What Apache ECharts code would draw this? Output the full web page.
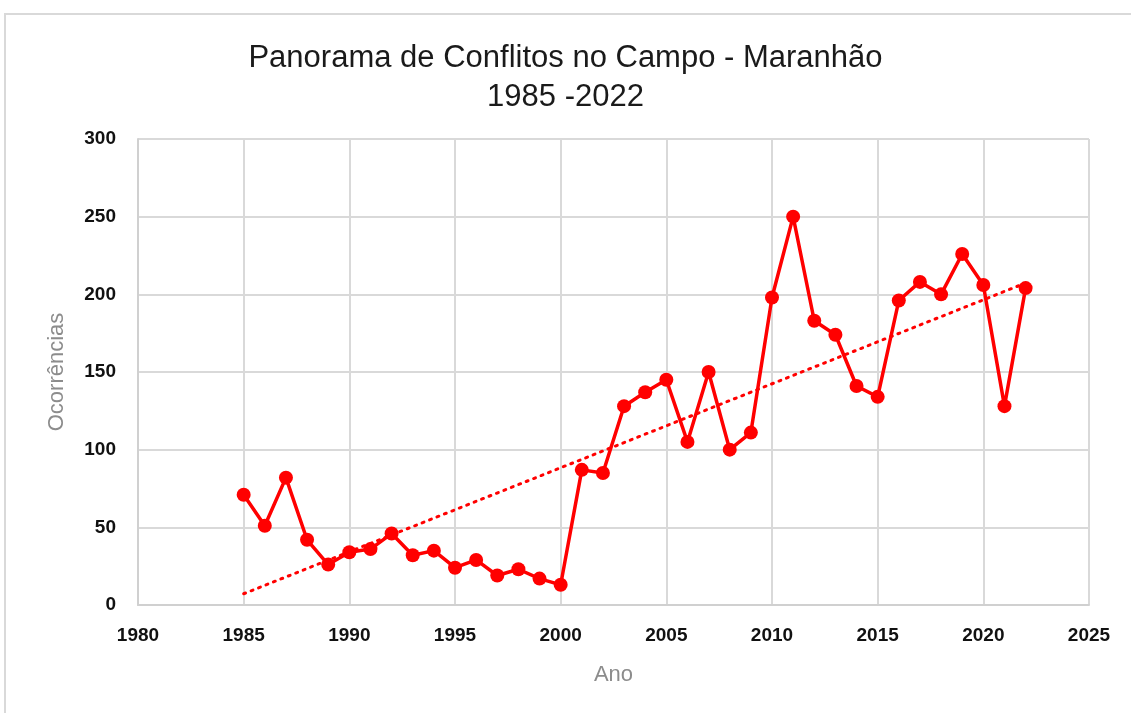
<!DOCTYPE html>
<html>
<head>
<meta charset="utf-8">
<script src="https://cdn.jsdelivr.net/npm/echarts@6/dist/echarts.min.js"></script>
<style>
  html, body { margin: 0; padding: 0; background: #fff; }
  #chart { width: 1131px; height: 713px; }
</style>
</head>
<body>
<div id="chart"></div>
<script>
// anos e ocorrências
const anos = [1985, 1986, 1987, 1988, 1989, 1990, 1991, 1992, 1993, 1994,
  1995, 1996, 1997, 1998, 1999, 2000, 2001, 2002, 2003, 2004,
  2005, 2006, 2007, 2008, 2009, 2010, 2011, 2012, 2013, 2014,
  2015, 2016, 2017, 2018, 2019, 2020, 2021, 2022];
const ocorrencias = [71, 51, 82, 42, 26, 34, 36, 46, 32, 35,
  24, 29, 19, 23, 17, 13, 87, 85, 128, 137,
  145, 105, 150, 100, 111, 198, 250, 183, 174, 141,
  134, 196, 208, 200, 226, 206, 128, 204];

// linha de tendência linear (mínimos quadrados)
const n = anos.length;
const mx = anos.reduce((a, b) => a + b, 0) / n;
const my = ocorrencias.reduce((a, b) => a + b, 0) / n;
let sxy = 0, sxx = 0;
anos.forEach((x, i) => { sxy += (x - mx) * (ocorrencias[i] - my); sxx += (x - mx) * (x - mx); });
const slope = sxy / sxx;
const intercept = my - slope * mx;
const tendencia = [anos[0], anos[n - 1]].map(x => [x, intercept + slope * x]);

const labelFont = {
  fontFamily: 'Liberation Sans',
  fontSize: 19,
  fontWeight: 'bold',
  color: '#111'
};

const chart = echarts.init(document.getElementById('chart'));
chart.setOption({
  backgroundColor: '#fff',
  animation: false,
  graphic: [{
    type: 'rect',
    shape: { x: 5, y: 14, width: 1140, height: 720 },
    style: { fill: 'none', stroke: '#d9d9d9', lineWidth: 2 },
    silent: true
  }],
  title: {
    text: 'Panorama de Conflitos no Campo - Maranhão\n1985 -2022',
    left: 'center',
    top: 34,
    textStyle: {
      fontFamily: 'Liberation Sans',
      fontSize: 31,
      fontWeight: 'normal',
      color: '#1a1a1a',
      lineHeight: 39
    }
  },
  grid: { left: 138, right: 42, top: 139, bottom: 108 },
  xAxis: {
    type: 'value',
    min: 1980,
    max: 2025,
    interval: 5,
    name: 'Ano',
    nameLocation: 'middle',
    nameGap: 59,
    nameTextStyle: { fontFamily: 'Liberation Sans', fontSize: 22, color: '#8c8c8c' },
    axisLine: { show: true, lineStyle: { color: '#d0d0d0', width: 2 } },
    axisTick: { show: false },
    axisLabel: Object.assign({ margin: 21, formatter: v => String(v) }, labelFont),
    splitLine: { show: true, lineStyle: { color: '#d9d9d9', width: 2 } }
  },
  yAxis: {
    type: 'value',
    min: 0,
    max: 300,
    interval: 50,
    name: 'Ocorrências',
    nameLocation: 'middle',
    nameGap: 70,
    nameTextStyle: { fontFamily: 'Liberation Sans', fontSize: 22, color: '#8c8c8c' },
    axisLine: { show: true, lineStyle: { color: '#d0d0d0', width: 2 } },
    axisTick: { show: false },
    axisLabel: Object.assign({ margin: 22 }, labelFont),
    splitLine: { show: true, lineStyle: { color: '#d9d9d9', width: 2 } }
  },
  series: [
    {
      type: 'line',
      data: tendencia,
      symbol: 'none',
      lineStyle: { color: '#ff0000', width: 3, type: [2, 6], cap: 'round' },
      z: 2
    },
    {
      type: 'line',
      data: anos.map((a, i) => [a, ocorrencias[i]]),
      symbol: 'circle',
      symbolSize: 14,
      itemStyle: { color: '#ff0000' },
      lineStyle: { color: '#ff0000', width: 3.5 },
      z: 3
    }
  ]
});
</script>
</body>
</html>
